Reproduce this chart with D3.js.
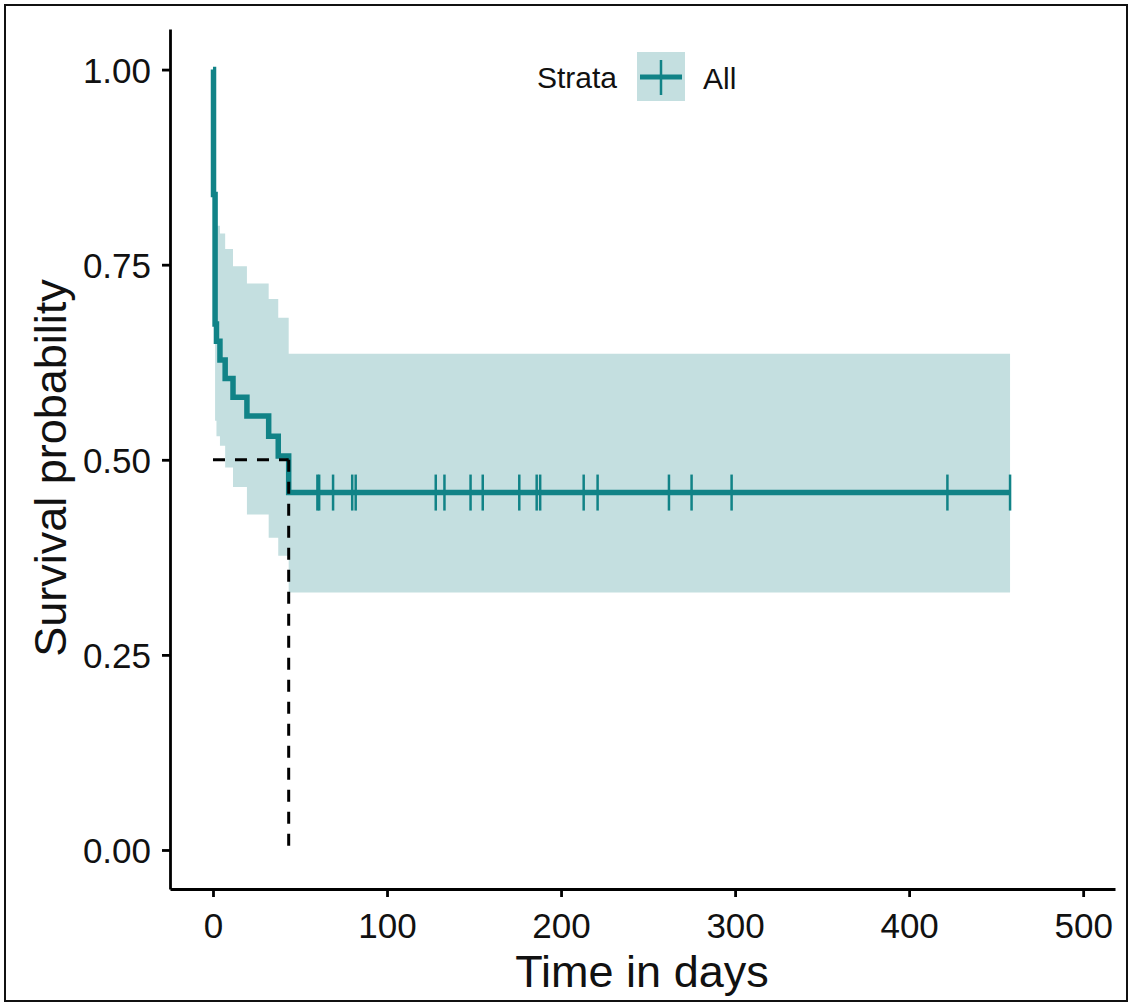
<!DOCTYPE html>
<html>
<head>
<meta charset="utf-8">
<script src="https://cdn.jsdelivr.net/npm/d3@7"></script>
<style>
  body { margin: 0; background: #fff; }
  svg { display: block; font-family: "Liberation Sans", Arial, sans-serif; }
</style>
</head>
<body>
<svg id="km" width="1133" height="1007"></svg>
<script>
// step times (days) and the Kaplan-Meier estimate with its confidence band
const times    = [0, 0.3, 1.2, 2, 4, 7, 11.5, 19.5, 32, 37.5, 43.5, 458]
const survival = [1, 0.84, 0.674, 0.652, 0.628, 0.604, 0.58, 0.556, 0.53, 0.505, 0.458, 0.458]
const upper    = [1, 0.90, 0.815, 0.80, 0.79, 0.77, 0.748, 0.726, 0.706, 0.682, 0.636, 0.636]
const lower    = [1, 0.70, 0.55, 0.53, 0.518, 0.49, 0.465, 0.43, 0.40, 0.377, 0.33, 0.33]

// censored observations (days)
const censorTimes = [60, 61, 69, 80, 82, 128, 133, 148, 155, 176, 186, 188, 213, 221, 262, 275, 298, 422, 458]

const xTicks = [0, 100, 200, 300, 400, 500]
const yTicks = [0, 0.25, 0.5, 0.75, 1]

const strataTitle = 'Strata'
const strataLabel = 'All'

const lineColor = '#118387'
const bandColor = '#c4dfe0'

const svg = d3.select('#km')

// outer frame of the figure
svg.append('rect')
    .attr('x', 5).attr('y', 5)
    .attr('width', 1122).attr('height', 996)
    .attr('fill', 'none')
    .attr('stroke', '#111')
    .attr('stroke-width', 2)

const x = d3.scaleLinear()
    .domain([-24.7, 518.3])
    .range([170, 1115])

const y = d3.scaleLinear()
    .domain([-0.05, 1.052])
    .range([889, 29])

const rows = times.map((t, i) => ({ t: t, s: survival[i], lo: lower[i], hi: upper[i] }))

// confidence band
const band = d3.area()
    .curve(d3.curveStepAfter)
    .x(d => x(d.t))
    .y0(d => y(d.lo))
    .y1(d => y(d.hi))

svg.append('path')
    .datum(rows)
    .attr('d', band)
    .attr('fill', bandColor)

// survival curve
const line = d3.line()
    .curve(d3.curveStepAfter)
    .x(d => x(d.t))
    .y(d => y(d.s))

svg.append('path')
    .datum(rows)
    .attr('d', line)
    .attr('fill', 'none')
    .attr('stroke', lineColor)
    .attr('stroke-width', 5.5)

// survival at a given time, for the censor marks
const survAt = (t) => {
    let s = 1
    rows.forEach(d => { if (d.t <= t) s = d.s })
    return s
}

svg.append('g')
    .selectAll('line')
    .data(censorTimes)
    .enter()
    .append('line')
    .attr('x1', d => x(d)).attr('x2', d => x(d))
    .attr('y1', d => y(survAt(d)) - 18)
    .attr('y2', d => y(survAt(d)) + 18)
    .attr('stroke', lineColor)
    .attr('stroke-width', 2.5)

// median survival lines
const medianTime = rows.find(d => d.s <= 0.5).t
const median = svg.append('g')
    .attr('stroke', '#000')
    .attr('stroke-width', 3)
    .attr('stroke-dasharray', '12,10')
median.append('line')
    .attr('x1', x(0)).attr('x2', x(medianTime))
    .attr('y1', y(0.5)).attr('y2', y(0.5))
median.append('line')
    .attr('x1', x(medianTime)).attr('x2', x(medianTime))
    .attr('y1', y(0.5)).attr('y2', y(0))

// axes
const xAxis = svg.append('g')
    .attr('transform', 'translate(0,889)')
    .call(d3.axisBottom(x).tickValues(xTicks).tickSize(8).tickPadding(8).tickSizeOuter(0))
const yAxis = svg.append('g')
    .attr('transform', 'translate(170,0)')
    .call(d3.axisLeft(y).tickValues(yTicks).tickFormat(d3.format('.2f')).tickSize(8).tickPadding(11).tickSizeOuter(0))

;[xAxis, yAxis].forEach(a => {
    a.select('.domain').attr('stroke', '#000').attr('stroke-width', 2.8)
    a.selectAll('.tick line').attr('stroke', '#000').attr('stroke-width', 2.8)
    a.selectAll('.tick text')
        .attr('fill', '#111')
        .style('font-size', '35px')
        .style('font-family', '"Liberation Sans", Arial, sans-serif')
})
yAxis.selectAll('.tick text').attr('dy', '0.36em')
xAxis.selectAll('.tick text').attr('dy', '0.95em')

// axis titles
svg.append('text')
    .attr('x', 642).attr('y', 987)
    .attr('text-anchor', 'middle')
    .style('font-size', '45px')
    .attr('fill', '#111')
    .text('Time in days')

svg.append('text')
    .attr('transform', 'translate(66,468) rotate(-90)')
    .attr('text-anchor', 'middle')
    .style('font-size', '45px')
    .attr('fill', '#111')
    .text('Survival probability')

// legend
const legend = svg.append('g')
    .attr('transform', 'translate(637,52)')
legend.append('text')
    .attr('x', -20).attr('y', 36)
    .attr('text-anchor', 'end')
    .style('font-size', '30px')
    .attr('fill', '#111')
    .text(strataTitle)
legend.append('rect')
    .attr('width', 48).attr('height', 49)
    .attr('fill', bandColor)
legend.append('line')
    .attr('x1', 3).attr('x2', 45)
    .attr('y1', 25).attr('y2', 25)
    .attr('stroke', lineColor).attr('stroke-width', 5)
legend.append('line')
    .attr('x1', 24).attr('x2', 24)
    .attr('y1', 8).attr('y2', 43)
    .attr('stroke', lineColor).attr('stroke-width', 2.5)
legend.append('text')
    .attr('x', 66).attr('y', 37)
    .style('font-size', '30px')
    .attr('fill', '#111')
    .text(strataLabel)
</script>
</body>
</html>
